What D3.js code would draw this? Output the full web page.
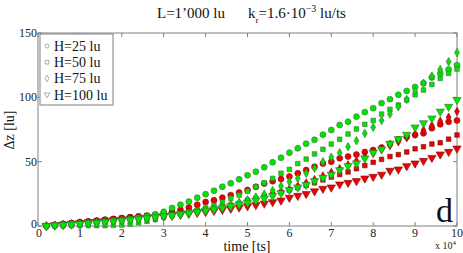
<!DOCTYPE html>
<html>
<head>
<meta charset="utf-8">
<script src="https://cdn.jsdelivr.net/npm/d3@7"></script>
<style>
  body { margin: 0; background: #fff; }
  text { font-family: "Liberation Serif", "DejaVu Serif", serif; }
</style>
</head>
<body>
<div class="chart"></div>
<script>
// time in ts, sampled every 2000 ts
var times = [2000, 4000, 6000, 8000, 10000, 12000, 14000, 16000, 18000, 20000,
             22000, 24000, 26000, 28000, 30000, 32000, 34000, 36000, 38000, 40000,
             42000, 44000, 46000, 48000, 50000, 52000, 54000, 56000, 58000, 60000,
             62000, 64000, 66000, 68000, 70000, 72000, 74000, 76000, 78000, 80000,
             82000, 84000, 86000, 88000, 90000, 92000, 94000, 96000, 98000, 100000];

// green series
var g25 = [0, 0.6, 1.0, 1.5, 2.0, 2.5, 3.0, 3.6, 4.2, 4.8,
           5.5, 6.4, 7.5, 9.0, 11.0, 14.0, 16.6, 19.0, 22.0, 24.7,
           27.4, 30.5, 33.2, 36.3, 39.4, 42.2, 45.6, 49.5, 53.0, 57.0,
           60.4, 64.0, 67.0, 71.0, 74.6, 78.5, 81.0, 85.0, 88.5, 91.6,
           95.5, 98.6, 102.0, 105.0, 108.0, 111.0, 115.5, 118.6, 121.7, 125.0];
var g50 = [0, 0, 0.2, 0.3, 0.3, 0.4, 0.3, 0.3, 0.5, 0.8,
           1.5, 2.5, 3.6, 5.0, 7.0, 8.2, 9.5, 11.0, 12.5, 14.0,
           16.0, 18.5, 21.5, 24.0, 27.0, 30.5, 33.5, 37.0, 41.0, 44.0,
           48.5, 52.0, 56.0, 59.6, 63.7, 67.4, 71.5, 75.4, 79.0, 82.0,
           87.0, 90.6, 94.0, 98.0, 102.0, 105.7, 110.0, 114.7, 118.6, 122.0];
var g75 = [0, 0.5, 0.9, 1.3, 1.7, 2.1, 2.5, 3.0, 3.4, 3.9,
           4.4, 4.9, 5.4, 6.0, 6.8, 7.6, 8.6, 9.6, 10.8, 12.0,
           13.4, 15.0, 16.6, 18.4, 20.4, 22.5, 24.8, 27.5, 31.0, 34.4,
           37.0, 41.0, 44.8, 50.0, 53.4, 57.0, 61.6, 66.3, 72.0, 76.7,
           82.0, 87.0, 92.7, 98.4, 105.0, 111.0, 116.5, 121.7, 127.7, 134.8];
var g100 = [0, 0.4, 0.8, 1.2, 1.6, 2.0, 2.5, 3.0, 3.6, 4.2,
            4.8, 5.4, 6.1, 6.8, 7.6, 8.4, 9.2, 10.0, 11.0, 12.0,
            13.0, 14.2, 15.4, 16.8, 18.2, 19.8, 21.5, 23.5, 25.5, 28.0,
            30.0, 32.0, 35.0, 37.5, 40.0, 43.5, 46.6, 48.7, 52.6, 57.0,
            59.6, 64.0, 67.6, 71.0, 76.7, 80.0, 83.7, 89.0, 92.7, 98.0];

// red series
var r25 = [0.2, 0.9, 1.5, 2.2, 2.9, 3.5, 4.1, 4.8, 5.5, 6.1,
           6.8, 7.4, 8.0, 8.8, 9.8, 11.0, 12.6, 14.4, 16.5, 18.6,
           20.0, 22.0, 24.0, 26.0, 28.0, 30.5, 33.0, 34.8, 36.5, 38.5,
           41.0, 43.5, 46.0, 48.5, 50.0, 52.6, 54.0, 55.5, 57.5, 59.0,
           61.0, 64.0, 67.4, 69.4, 70.7, 72.0, 76.0, 79.0, 81.0, 82.0];
var r50 = [0.2, 0.9, 1.5, 2.3, 3.0, 3.6, 4.3, 5.0, 5.7, 6.3,
           7.0, 7.6, 8.2, 8.8, 9.4, 10.0, 10.7, 11.4, 12.2, 13.0,
           14.0, 15.0, 16.2, 17.4, 20.0, 21.5, 23.0, 24.6, 26.2, 28.0,
           29.8, 31.6, 33.6, 35.8, 38.0, 40.0, 42.0, 44.5, 47.0, 49.5,
           51.8, 54.0, 55.5, 57.5, 60.0, 61.6, 63.7, 64.7, 67.5, 70.7];
var r75 = [0.1, 0.7, 1.2, 1.8, 2.4, 2.9, 3.4, 3.9, 4.4, 5.0,
           5.5, 6.0, 6.6, 7.2, 7.8, 8.5, 9.3, 10.2, 11.2, 12.2,
           13.4, 14.6, 16.0, 17.5, 19.0, 20.8, 22.6, 24.5, 26.5, 28.6,
           31.0, 33.5, 36.0, 38.8, 41.5, 44.5, 47.5, 50.5, 53.5, 56.5,
           59.5, 62.5, 65.5, 68.6, 71.5, 74.5, 78.0, 81.5, 84.5, 89.0];
var r100 = [0.1, 0.7, 1.2, 1.8, 2.4, 2.9, 3.4, 3.9, 4.5, 5.0,
            5.6, 6.1, 6.6, 7.1, 7.7, 8.3, 8.9, 9.6, 10.3, 11.0,
            11.8, 12.6, 13.5, 14.4, 15.4, 16.4, 17.5, 18.6, 19.8, 22.0,
            23.5, 25.0, 27.0, 29.0, 30.0, 32.4, 33.6, 35.0, 37.0, 38.3,
            40.0, 43.0, 44.0, 46.6, 48.7, 50.7, 53.0, 55.7, 57.7, 60.3];

var legendLabels = ["H=25 lu", "H=50 lu", "H=75 lu", "H=100 lu"];
var xTicks = [0, 10000, 20000, 30000, 40000, 50000, 60000, 70000, 80000, 90000, 100000];
var yTicks = [0, 50, 100, 150];

var w = 463, h = 253;
var pLeft = 38, pRight = 457, pTop = 33, pBottom = 226;

var svg = d3.select(".chart").append("svg")
            .attr("width", w)
            .attr("height", h);

var x = d3.scaleLinear().domain([0, 100000]).range([pLeft, pRight]);
var y = d3.scaleLinear().domain([0, 150]).range([pBottom, pTop]);

var axisColor = "#808080";

// frame
svg.append("rect")
   .attr("x", pLeft).attr("y", pTop)
   .attr("width", pRight - pLeft).attr("height", pBottom - pTop)
   .attr("fill", "none").attr("stroke", axisColor).attr("stroke-width", 1);

// ticks (inside, on all four sides)
var tk = 4;
xTicks.forEach(function(t) {
  svg.append("line").attr("x1", x(t)).attr("x2", x(t)).attr("y1", pBottom).attr("y2", pBottom - tk)
     .attr("stroke", axisColor);
  svg.append("line").attr("x1", x(t)).attr("x2", x(t)).attr("y1", pTop).attr("y2", pTop + tk)
     .attr("stroke", axisColor);
  svg.append("text").attr("x", x(t) + (t === 0 ? 1 : 0)).attr("y", pBottom + 11)
     .attr("text-anchor", "middle").attr("font-size", "12px").attr("fill", "#222")
     .text(t / 10000);
});
yTicks.forEach(function(t) {
  svg.append("line").attr("x1", pLeft).attr("x2", pLeft + tk).attr("y1", y(t)).attr("y2", y(t))
     .attr("stroke", axisColor);
  svg.append("line").attr("x1", pRight).attr("x2", pRight - tk).attr("y1", y(t)).attr("y2", y(t))
     .attr("stroke", axisColor);
  svg.append("text").attr("x", pLeft - 1).attr("y", y(t) + (t === 0 ? 2 : 4))
     .attr("text-anchor", "end").attr("font-size", "12px").attr("fill", "#222")
     .text(t);
});

// exponent note
var xe = svg.append("text").attr("x", 435).attr("y", 249).attr("font-size", "10px").attr("fill", "#222");
xe.append("tspan").text("x 10");
xe.append("tspan").attr("dy", -4).attr("font-size", "7px").text("4");

// axis labels
svg.append("text").attr("x", 247).attr("y", 251).attr("text-anchor", "middle")
   .attr("font-size", "14px").attr("fill", "#111").text("time [ts]");
svg.append("text").attr("transform", "translate(14,130) rotate(-90)")
   .attr("text-anchor", "middle").attr("font-size", "14px").attr("fill", "#111").text("Δz [lu]");

// title
var title = svg.append("text").attr("x", 157).attr("y", 18).attr("font-size", "15px").attr("fill", "#111");
title.append("tspan").text("L=1’000 lu");
title.append("tspan").attr("x", 248).text("k");
title.append("tspan").attr("dy", 5).attr("font-size", "9px").text("r");
title.append("tspan").attr("dy", -5).text("=1.6·10");
title.append("tspan").attr("dy", -6).attr("font-size", "10px").text("−3");
title.append("tspan").attr("dy", 6).text(" lu/ts");

// markers
var symTypes = [d3.symbolCircle, d3.symbolSquare, d3.symbolDiamond, d3.symbolTriangle];
var symSizes = [28, 21, 21, 30];
var rotations = [0, 0, 0, 180];

var redSeries = [r25, r50, r75, r100];
var greenSeries = [g25, g50, g75, g100];

function drawSeries(vals, k, fill, edge) {
  svg.append("g").selectAll("path")
     .data(vals)
     .enter()
     .append("path")
     .attr("d", d3.symbol().type(symTypes[k]).size(symSizes[k]))
     .attr("transform", function(d, i) {
       return "translate(" + x(times[i]) + "," + y(d) + ") rotate(" + rotations[k] + ")";
     })
     .attr("fill", fill)
     .attr("stroke", edge)
     .attr("stroke-width", 0.6);
}

redSeries.forEach(function(s, k) { drawSeries(s, k, "#ee0000", "#7a1010"); });
greenSeries.forEach(function(s, k) { drawSeries(s, k, "#00e600", "#3c6e3c"); });

// legend
var lg = svg.append("g");
lg.append("rect").attr("x", 40).attr("y", 34).attr("width", 73).attr("height", 71)
  .attr("fill", "#fff").attr("stroke", axisColor);
legendLabels.forEach(function(lab, k) {
  var ly = 46 + k * 16.2;
  lg.append("path")
    .attr("d", d3.symbol().type(symTypes[k]).size(13))
    .attr("transform", "translate(47," + ly + ") rotate(" + rotations[k] + ")")
    .attr("fill", "none").attr("stroke", "#777").attr("stroke-width", 0.6);
  lg.append("text").attr("x", 54).attr("y", ly + 5)
    .attr("font-size", "14px").attr("fill", "#111").text(lab);
});

// panel letter
svg.append("text").attr("x", 436).attr("y", 222).attr("font-size", "34px").attr("fill", "#111").text("d");
</script>
</body>
</html>
